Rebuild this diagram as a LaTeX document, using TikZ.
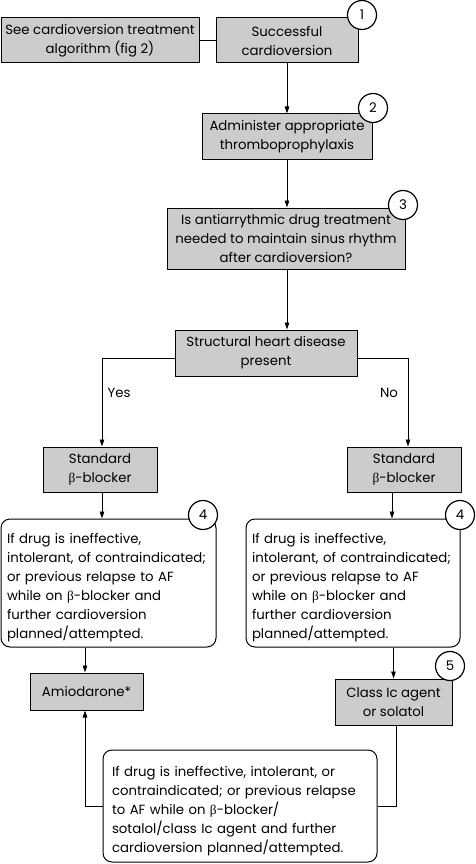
\documentclass[tikz,border=0pt]{standalone}
\usepackage{fontspec}
\setmainfont{Poppins}
\newfontfamily\grk{Liberation Serif}
\newcommand{\bet}{{\grk β}}
\newcommand{\topstrut}{\rule{0pt}{20pt}}
\hyphenpenalty=10000
\exhyphenpenalty=10000
\usetikzlibrary{arrows.meta}
\begin{document}
\begin{tikzpicture}[x=1pt,y=-1pt,
  font=\fontsize{13.3}{19}\selectfont,
  gbox/.style={draw, line width=1pt, fill=black!20, align=center, inner sep=0pt},
  rbox/.style={draw, line width=1pt, fill=white, rounded corners=9pt, align=left, inner sep=0pt},
  num/.style={circle, draw, line width=1.2pt, fill=white, minimum size=29pt, inner sep=0pt},
  conn/.style={line width=0.8pt},
  arr/.style={conn, -{Triangle[length=7pt,width=4.5pt]}}]
\useasboundingbox (0,0) rectangle (476,864);

\node[gbox, minimum width=198pt, minimum height=45pt] (see) at (100,40.5) {See cardioversion treatment\\algorithm (fig 2)};
\node[gbox, minimum width=142pt, minimum height=45pt] (succ) at (287,40.5) {Successful\\cardioversion};
\node[gbox, minimum width=170pt, minimum height=45pt] (admin) at (287,136.5) {Administer appropriate\\thromboprophylaxis};
\node[gbox, minimum width=238pt, minimum height=61pt] (isq) at (286,238.5) {Is antiarrythmic drug treatment\\needed to maintain sinus rhythm\\after cardioversion?};
\node[gbox, minimum width=182pt, minimum height=46pt] (shd) at (266,353) {Structural heart disease\\present};
\node (yes) at (119,393) {Yes};
\node (no) at (389,393) {No};
\node[gbox, minimum width=114pt, minimum height=45pt] (stdL) at (100,469.5) {Standard\\\bet-blocker};
\node[gbox, minimum width=114pt, minimum height=45pt] (stdR) at (404,469.5) {Standard\\\bet-blocker};
\node[rbox, minimum width=215pt, minimum height=128pt, text width=203pt] (condL) at (108.5,583) {\topstrut If drug is ineffective,\\intolerant, of contraindicated;\\or previous relapse to AF\\while on \bet-blocker and\\further cardioversion\\planned/attempted.};
\node[rbox, minimum width=214pt, minimum height=128pt, text width=202pt] (condR) at (353,583) {\topstrut If drug is ineffective,\\intolerant, of contraindicated;\\or previous relapse to AF\\while on \bet-blocker and\\further cardioversion\\planned/attempted.};
\node[gbox, minimum width=113pt, minimum height=37pt] (amio) at (86.5,691.5) {Amiodarone*};
\node[gbox, minimum width=117pt, minimum height=46pt] (cls) at (393.5,702) {Class Ic agent\\or solatol};
\node[rbox, minimum width=274pt, minimum height=112pt, text width=256pt] (bot) at (240,806) {\topstrut If drug is ineffective, intolerant, or\\contraindicated; or previous relapse\\to AF while on \bet-blocker/\\sotalol/class Ic agent and further\\cardioversion planned/attempted.};

\node[num] (n1) at (362,15) {1};
\node[num] (n2) at (373,108) {2};
\node[num] (n3) at (403,205) {3};
\node[num] (n4L) at (203,515) {4};
\node[num] (n4R) at (460,515) {4};
\node[num] (n5) at (450,666) {5};

\draw[conn] (see.east) -- (succ.west);
\draw[arr] (succ.south) -- (admin.north);
\draw[arr] (admin.south) -- (admin.south |- isq.north);
\draw[arr] ([xshift=1pt]isq.south) -- ([xshift=1pt]isq.south |- shd.north);
\draw[arr] ([yshift=-5pt]shd.west) -| ([xshift=2pt]stdL.north);
\draw[arr] ([yshift=-5pt]shd.east) -| ([xshift=4pt]stdR.north);
\draw[arr] ([xshift=2pt]stdL.south) -- ([xshift=2pt]stdL.south |- condL.north);
\draw[arr] ([xshift=-12pt]stdR.south) -- ([xshift=-12pt]stdR.south |- condR.north);
\draw[arr] ([xshift=-1.5pt]amio.north |- condL.south) -- ([xshift=-1.5pt]amio.north);
\draw[arr] (cls.north |- condR.south) -- (cls.north);
\draw[conn] ([xshift=2.5pt]cls.south) |- (bot.east);
\draw[arr] (bot.west) -| ([xshift=-1.5pt]amio.south);
\end{tikzpicture}
\end{document}
